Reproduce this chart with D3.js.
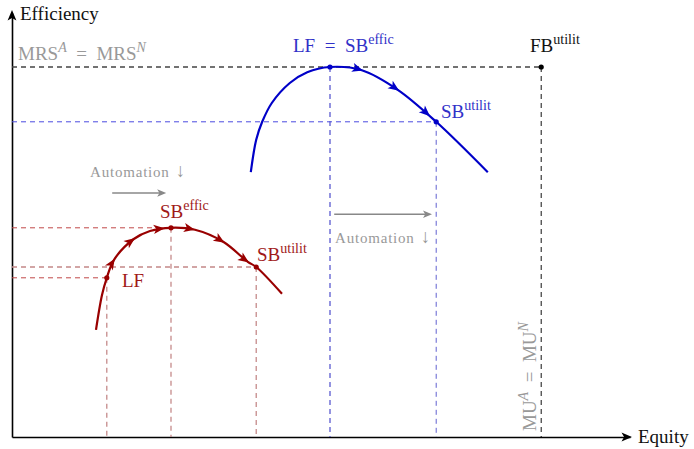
<!DOCTYPE html>
<html><head><meta charset="utf-8">
<script src="https://cdn.jsdelivr.net/npm/d3@7/dist/d3.min.js"></script>
<style>
body{margin:0;background:#fff;}
svg text{font-family:"Liberation Serif","DejaVu Serif",serif;}
</style></head>
<body><svg id="c" width="694" height="449"></svg>
<script>
// ---- data (Equity on x, Efficiency on y, arbitrary units) ----
const blueCurve = [[3.98,6.62],[4.07,7.43],[4.17,7.88],[4.33,8.35],[4.63,8.85],[4.92,9.12],[5.30,9.25],[5.83,9.17],[6.43,8.68],[7.07,7.88],[7.93,6.62]];
const redCurve  = [[1.40,2.68],[1.50,3.55],[1.58,3.98],[1.70,4.43],[2.03,4.95],[2.30,5.15],[2.65,5.23],[3.05,5.18],[3.52,4.88],[3.93,4.38],[4.07,4.25],[4.50,3.58]];
const blueArrowsX = [5.83, 6.43, 6.95];
const redArrowsX  = [1.70, 2.03, 2.52, 3.02, 3.52, 3.93];
const fbPoint = [8.82, 9.25];
const blueLF_SBeffic = [5.30, 9.25];
const blueSButilit = [7.07, 7.88];
const redSBeffic = [2.65, 5.23];
const redSButilit = [4.07, 4.25];
const redLF = [1.58, 3.98];
const automationShift1 = [[1.67, 6.10],[2.57, 6.10]];
const automationShift2 = [[5.37, 5.57],[7.00, 5.57]];

const svg = d3.select("#c");
const x = d3.scaleLinear().domain([0,10]).range([12,612]);
const y = d3.scaleLinear().domain([0,10]).range([437,37]);

// axes
svg.append("g").attr("transform",`translate(0,${y(0)})`)
  .call(d3.axisBottom(d3.scaleLinear().domain([0,10.3]).range([12,630])).tickValues([]).tickSizeOuter(0));
svg.append("g").attr("transform",`translate(${x(0)},0)`)
  .call(d3.axisLeft(d3.scaleLinear().domain([0,10.6]).range([437,13])).tickValues([]).tickSizeOuter(0));
svg.selectAll(".domain").attr("stroke","#000").attr("stroke-width",1.6);

function arrowHead(px,py,ang,color,sz){
  const s = sz||1;
  svg.append("path")
    .attr("d",`M0,0 L${-10*s},${-4.2*s} L${-7.5*s},0 L${-10*s},${4.2*s} Z`)
    .attr("fill",color)
    .attr("transform",`translate(${px},${py}) rotate(${ang*180/Math.PI})`);
}
arrowHead(632,y(0),0,"#000",1.05);
arrowHead(x(0),10,-Math.PI/2,"#000",1.05);

// dashed guides
function dash(x1,y1,x2,y2,color,w,da){
  svg.append("line").attr("x1",x(x1)).attr("y1",y(y1)).attr("x2",x(x2)).attr("y2",y(y2))
    .attr("stroke",color).attr("stroke-width",w||1).attr("stroke-dasharray",da||"5,4");
}
dash(0,fbPoint[1],fbPoint[0],fbPoint[1],"#444",1.3,"5,4");
dash(fbPoint[0],fbPoint[1],fbPoint[0],0,"#111",1,"5,4");
dash(0,blueSButilit[1],blueSButilit[0],blueSButilit[1],"#4a4ae0",1,"5,4");
dash(blueLF_SBeffic[0],blueLF_SBeffic[1],blueLF_SBeffic[0],0,"#5a5ad0",1.3,"5,4");
dash(blueSButilit[0],blueSButilit[1],blueSButilit[0],0,"#6060d0",1,"5,4");
dash(0,redSBeffic[1],redSBeffic[0],redSBeffic[1],"#c04848",1,"5,4");
dash(0,redSButilit[1],redSButilit[0],redSButilit[1],"#c48888",1.3,"5,4");
dash(0,redLF[1],redLF[0],redLF[1],"#c04848",1,"5,4");
dash(redLF[0],redLF[1],redLF[0],0,"#c08080",1.2,"5,4");
dash(redSBeffic[0],redSBeffic[1],redSBeffic[0],0,"#c08080",1.2,"5,4");
dash(redSButilit[0],redSButilit[1],redSButilit[0],0,"#c08080",1.2,"5,4");

// curves
const line = d3.line().x(d=>x(d[0])).y(d=>y(d[1])).curve(d3.curveCatmullRom.alpha(0.5));
function drawCurve(data,color,arrowsX){
  const p = svg.append("path").attr("d",line(data)).attr("fill","none")
    .attr("stroke",color).attr("stroke-width",2.2);
  const node = p.node(), L = node.getTotalLength();
  arrowsX.forEach(ax=>{
    const tx = x(ax);
    let best=0, bd=1e9;
    for(let l=0;l<=L;l+=0.5){const pt=node.getPointAtLength(l); const d=Math.abs(pt.x-tx); if(d<bd){bd=d;best=l;}}
    const a=node.getPointAtLength(Math.max(0,best-2)), b=node.getPointAtLength(Math.min(L,best+2));
    const pt=node.getPointAtLength(best);
    arrowHead(pt.x+(b.x-a.x)/4*1.5, pt.y+(b.y-a.y)/4*1.5, Math.atan2(b.y-a.y,b.x-a.x), color, 1.1);
  });
}
drawCurve(blueCurve,"#0000c8",blueArrowsX);
drawCurve(redCurve,"#990000",redArrowsX);

// points
function dot(p,color){svg.append("circle").attr("cx",x(p[0])).attr("cy",y(p[1])).attr("r",2.6).attr("fill",color);}
dot(fbPoint,"#000"); dot(blueLF_SBeffic,"#0000c8"); dot(blueSButilit,"#0000c8");
dot(redSBeffic,"#990000"); dot(redSButilit,"#990000"); dot(redLF,"#990000");

// automation arrows
function grayArrow(seg){
  svg.append("line").attr("x1",x(seg[0][0])).attr("y1",y(seg[0][1])).attr("x2",x(seg[1][0])-6).attr("y2",y(seg[1][1]))
    .attr("stroke","#888").attr("stroke-width",1.5);
  arrowHead(x(seg[1][0]),y(seg[1][1]),0,"#888",0.9);
}
grayArrow(automationShift1); grayArrow(automationShift2);

// labels
const EQ = "\u2002=\u2002";
function label(px,py,parts,color,size,extra){
  const t = svg.append("text").attr("x",px).attr("y",py).attr("fill",color).attr("font-size",size);
  if(extra) extra(t);
  let sup=false;
  parts.forEach(pt=>{
    const ts=t.append("tspan").text(pt.t);
    if(pt.s && !sup){ts.attr("dy",-8).attr("font-size",size*0.74); sup=true;}
    else if(pt.s){ts.attr("font-size",size*0.74);}
    else if(!pt.s && sup){ts.attr("dy",8); sup=false;}
    if(pt.i) ts.attr("font-style","italic");
    if(pt.ls) ts.attr("letter-spacing",pt.ls);
    if(pt.dx) ts.attr("dx",pt.dx);
    if(pt.fs) ts.attr("font-size",pt.fs);
  });
  return t;
}
label(20,20,[{t:"Efficiency"}],"#111",19);
label(18,60,[{t:"MRS"},{t:"A",s:1,i:1},{t:EQ+"MRS"},{t:"N",s:1,i:1}],"#999",19);
label(293,52,[{t:"LF"+EQ+"SB"},{t:"effic",s:1}],"#3030c8",19);
label(530,52,[{t:"FB"},{t:"utilit",s:1}],"#111",19);
label(441,118,[{t:"SB"},{t:"utilit",s:1}],"#3030c8",19);
label(160,218,[{t:"SB"},{t:"effic",s:1}],"#a01818",19);
label(257,261,[{t:"SB"},{t:"utilit",s:1}],"#a01818",19);
label(122,287,[{t:"LF"}],"#a01818",19);
label(90,177,[{t:"Automation",ls:0.8},{t:"↓",dx:6,fs:19}],"#999",15);
label(335,243,[{t:"Automation",ls:0.8},{t:"↓",dx:6,fs:19}],"#999",15);
label(0,0,[{t:"MU"},{t:"A",s:1,i:1},{t:EQ+"MU"},{t:"N",s:1,i:1}],"#999",19,
  t=>t.attr("transform","translate(536,431) rotate(-90)"));
label(638,443,[{t:"Equity"}],"#111",19);
</script></body></html>
